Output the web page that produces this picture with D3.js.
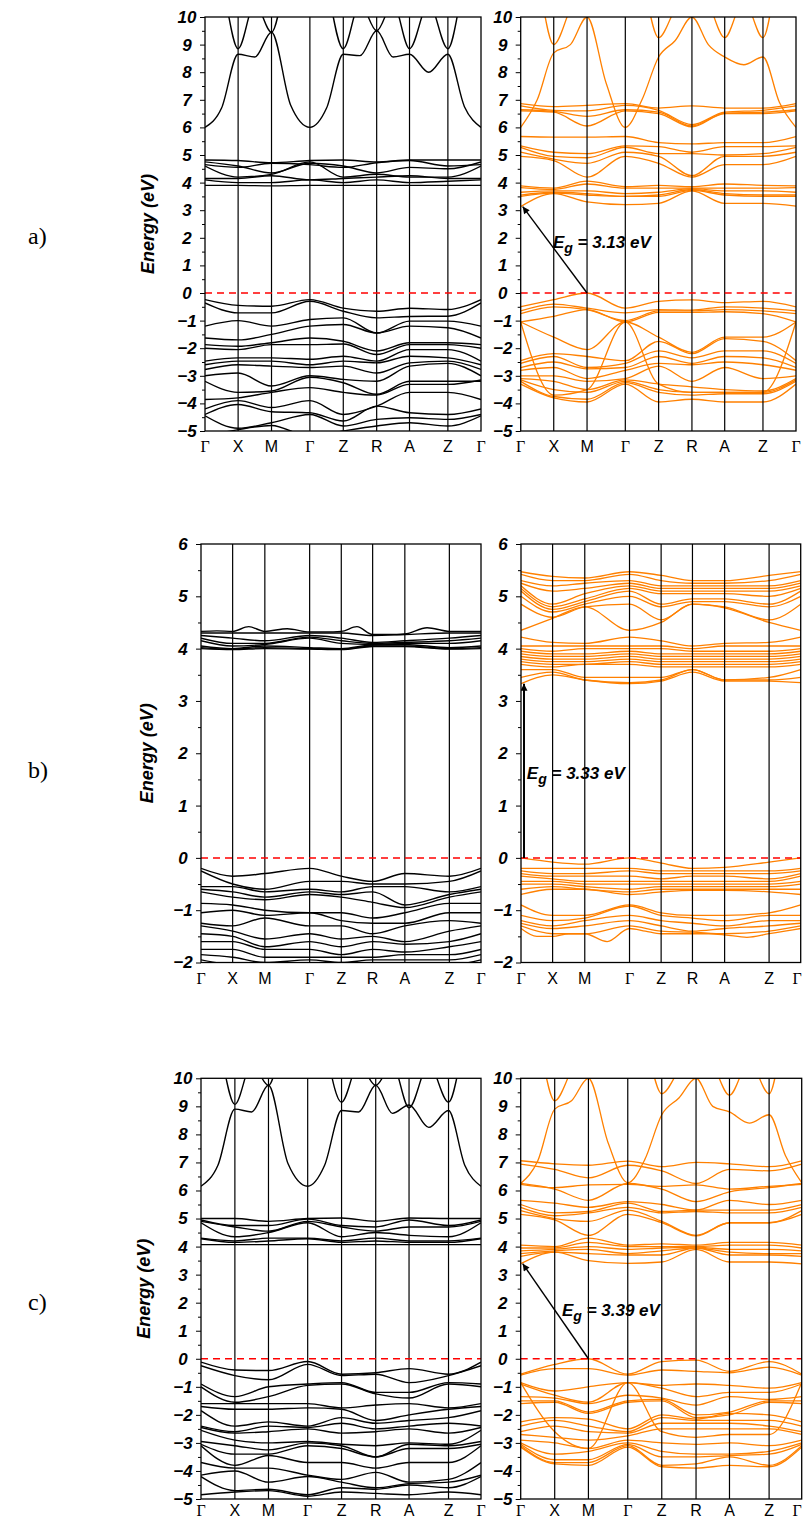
<!DOCTYPE html>
<html>
<head>
<meta charset="utf-8">
<script src="https://cdn.jsdelivr.net/npm/d3@7"></script>
<style>
  body { margin: 0; background: #fff; }
</style>
</head>
<body>
<div id="chart"></div>
<script>
// k-path and tick labels
var kLabels = ["Γ", "X", "M", "Γ", "Z", "R", "A", "Z", "Γ"];
var kPosA = [0, 0.120, 0.241, 0.380, 0.501, 0.622, 0.741, 0.880, 1];
var kPosB = [0, 0.113, 0.228, 0.388, 0.501, 0.613, 0.728, 0.887, 1];
var kPosC = [0, 0.121, 0.241, 0.381, 0.502, 0.624, 0.743, 0.884, 1];
var ticksAC = [-5, -4, -3, -2, -1, 0, 1, 2, 3, 4, 5, 6, 7, 8, 9, 10];
var ticksB = [-2, -1, 0, 1, 2, 3, 4, 5, 6];
var gaps = [3.13, 3.33, 3.39];
var rowTags = ["a)", "b)", "c)"];

// bands: 9 values = energies at the k points, 17 values = k points plus segment midpoints
var bandsA1 = [
  [6.0, 6.7, 8.65, 8.55, 9.45, 6.8, 6.0, 6.7, 8.65, 8.6, 9.5, 8.55, 8.65, 8.0, 8.65, 6.75, 6.0],
  [13, 11.3, 8.85, 10.5, 9.45, 12.5, 15, 11.3, 8.85, 10.5, 9.5, 10.5, 8.85, 10.5, 8.85, 11.3, 13],
  [4.82, 4.8, 4.72, 4.8, 4.82, 4.75, 4.82, 4.82, 4.82],
  [4.75, 4.6, 4.35, 4.7, 4.6, 4.35, 4.55, 4.5, 4.75],
  [4.65, 4.55, 4.7, 4.65, 4.55, 4.72, 4.8, 4.6, 4.65],
  [4.6, 4.2, 4.3, 4.75, 4.2, 4.3, 4.2, 4.2, 4.6],
  [4.15, 4.15, 4.25, 4.1, 4.15, 4.2, 4.25, 4.15, 4.15],
  [4.1, 4.0, 4.0, 4.1, 4.0, 4.1, 4.0, 4.05, 4.1],
  [3.9, 3.9, 3.88, 3.9, 3.9, 3.9, 3.9, 3.9, 3.9],
  [-0.24, -0.45, -0.48, -0.24, -0.55, -0.66, -0.55, -0.6, -0.24],
  [-0.36, -0.72, -0.72, -0.3, -0.66, -0.9, -0.85, -0.84, -0.36],
  [-1.2, -1.0, -1.2, -0.96, -0.9, -1.45, -1.02, -1.02, -1.2],
  [-1.63, -1.7, -1.5, -1.2, -1.14, -1.45, -1.2, -1.26, -1.63],
  [-1.87, -1.93, -1.8, -1.63, -1.75, -2.1, -1.8, -1.8, -1.87],
  [-2.0, -2.05, -1.87, -1.87, -1.85, -2.23, -1.87, -1.87, -2.0],
  [-2.47, -2.35, -2.35, -2.4, -2.29, -2.47, -2.05, -2.05, -2.47],
  [-2.6, -2.47, -2.47, -2.6, -2.47, -2.53, -2.29, -2.35, -2.6],
  [-2.77, -2.6, -2.65, -2.7, -2.65, -2.9, -2.53, -2.47, -2.77],
  [-3.0, -2.9, -3.37, -3.0, -3.13, -3.2, -2.65, -2.55, -3.0],
  [-3.2, -3.6, -3.55, -3.05, -3.25, -3.67, -3.2, -3.2, -3.2],
  [-3.86, -3.8, -3.6, -3.43, -3.6, -3.7, -3.31, -3.31, -3.15],
  [-4.2, -3.9, -4.15, -3.9, -4.4, -4.1, -3.6, -3.6, -3.86],
  [-4.4, -4.04, -4.3, -4.34, -4.64, -4.1, -4.34, -4.4, -4.2],
  [-4.45, -4.9, -4.7, -4.4, -4.82, -4.58, -4.52, -4.58, -4.4],
  [-5.2, -4.95, -4.8, -5.2, -5.0, -4.82, -4.7, -4.82, -4.45]
];

var bandsA2 = [
  [6.0, 7.0, 8.7, 9.0, 10.0, 7.6, 6.0, 7.0, 8.55, 9.15, 10.0, 9.0, 8.55, 8.27, 8.55, 6.9, 6.0],
  [14, 11.5, 9.0, 10.3, 11.5, 13, 14, 11.5, 9.25, 10.3, 11.2, 10.5, 9.25, 10.6, 9.25, 12, 14],
  [6.86, 6.75, 6.8, 6.86, 6.7, 6.78, 6.7, 6.7, 6.86],
  [6.78, 6.62, 6.6, 6.8, 6.62, 6.1, 6.55, 6.62, 6.78],
  [6.64, 6.58, 6.4, 6.64, 6.55, 6.05, 6.52, 6.55, 6.64],
  [6.6, 6.55, 6.05, 6.6, 6.5, 6.02, 6.5, 6.5, 6.6],
  [5.67, 5.65, 5.65, 5.67, 5.45, 5.4, 5.45, 5.45, 5.67],
  [5.33, 5.1, 5.05, 5.33, 5.3, 5.1, 5.3, 5.3, 5.33],
  [5.28, 4.95, 4.9, 5.28, 5.05, 5.05, 5.0, 5.05, 5.28],
  [5.1, 4.85, 4.7, 5.1, 4.95, 4.25, 4.95, 4.95, 5.1],
  [4.95, 4.8, 4.2, 4.95, 4.7, 4.2, 4.65, 4.65, 4.95],
  [3.88, 3.8, 4.05, 3.85, 3.9, 3.85, 3.95, 3.9, 3.88],
  [3.82, 3.75, 3.95, 3.8, 3.8, 3.8, 3.8, 3.8, 3.82],
  [3.65, 3.7, 3.7, 3.6, 3.65, 3.78, 3.7, 3.7, 3.65],
  [3.55, 3.65, 3.6, 3.5, 3.55, 3.75, 3.6, 3.55, 3.55],
  [3.5, 3.62, 3.55, 3.5, 3.5, 3.72, 3.55, 3.5, 3.5],
  [3.13, 3.6, 3.3, 3.2, 3.25, 3.7, 3.25, 3.25, 3.15],
  [-0.5, -0.24, 0.0, -0.55, -0.3, -0.25, -0.35, -0.3, -0.5],
  [-0.65, -0.4, -0.55, -0.72, -0.6, -0.62, -0.5, -0.55, -0.65],
  [-0.75, -0.5, -0.6, -1.0, -0.65, -0.65, -0.6, -0.65, -0.75],
  [-1.05, -0.85, -0.6, -1.05, -0.7, -0.7, -0.68, -0.75, -1.05],
  [-1.05, -1.6, -2.05, -1.05, -1.6, -2.15, -1.6, -1.6, -1.05],
  [-1.05, -3.7, -3.5, -1.05, -3.3, -3.6, -3.6, -3.6, -1.05],
  [-2.45, -2.2, -2.3, -2.45, -1.75, -2.2, -1.65, -1.75, -2.45],
  [-2.55, -2.3, -2.7, -2.55, -2.1, -2.35, -2.1, -2.1, -2.55],
  [-2.7, -2.5, -2.75, -2.7, -2.3, -2.55, -2.3, -2.35, -2.7],
  [-2.8, -2.7, -3.1, -2.8, -2.55, -2.6, -2.5, -2.6, -2.8],
  [-3.0, -3.0, -3.2, -3.1, -2.65, -3.2, -2.7, -3.1, -3.0],
  [-3.1, -3.2, -3.5, -3.15, -3.3, -3.4, -3.5, -3.55, -3.1],
  [-3.15, -3.5, -3.6, -3.2, -3.5, -3.6, -3.6, -3.6, -3.15],
  [-3.2, -3.75, -3.85, -3.25, -3.6, -3.7, -3.65, -3.65, -3.2],
  [-3.3, -3.8, -3.95, -3.3, -3.95, -3.85, -3.95, -3.95, -3.3]
];

var bandsB1 = [
  [4.33, 4.34, 4.33, 4.42, 4.33, 4.38, 4.32, 4.32, 4.33, 4.42, 4.27, 4.27, 4.28, 4.4, 4.33, 4.33, 4.33],
  [4.3, 4.3, 4.3, 4.3, 4.3, 4.25, 4.27, 4.3, 4.3],
  [4.25, 4.2, 4.15, 4.25, 4.2, 4.12, 4.15, 4.2, 4.25],
  [4.2, 4.1, 4.1, 4.22, 4.15, 4.1, 4.12, 4.15, 4.2],
  [4.15, 4.05, 4.08, 4.2, 4.1, 4.08, 4.1, 4.1, 4.15],
  [4.05, 4.0, 4.05, 4.02, 4.0, 4.07, 4.08, 4.02, 4.05],
  [4.02, 3.99, 4.02, 4.0, 3.99, 4.05, 4.05, 4.0, 4.02],
  [4.0, 3.98, 4.0, 3.99, 3.98, 4.04, 4.04, 3.99, 4.0],
  [-0.2, -0.35, -0.3, -0.2, -0.35, -0.45, -0.3, -0.35, -0.2],
  [-0.25, -0.5, -0.6, -0.45, -0.45, -0.5, -0.5, -0.45, -0.25],
  [-0.55, -0.55, -0.65, -0.6, -0.65, -0.55, -0.55, -0.65, -0.55],
  [-0.6, -0.65, -0.75, -0.65, -0.7, -0.65, -0.9, -0.7, -0.6],
  [-0.65, -0.75, -0.8, -0.7, -0.75, -0.85, -0.95, -0.75, -0.65],
  [-0.87, -0.9, -1.0, -1.05, -1.05, -1.15, -1.05, -0.87, -0.87],
  [-1.05, -1.0, -1.1, -1.05, -1.2, -1.25, -1.25, -1.05, -1.05],
  [-1.25, -1.3, -1.15, -1.3, -1.3, -1.45, -1.3, -1.2, -1.25],
  [-1.3, -1.4, -1.55, -1.45, -1.55, -1.5, -1.6, -1.4, -1.3],
  [-1.45, -1.5, -1.7, -1.6, -1.7, -1.6, -1.65, -1.6, -1.45],
  [-1.6, -1.6, -1.75, -1.75, -1.85, -1.75, -1.8, -1.7, -1.6],
  [-1.75, -1.75, -1.9, -1.9, -1.9, -1.9, -1.85, -1.85, -1.75],
  [-1.85, -1.9, -2.0, -1.95, -2.0, -1.95, -1.95, -1.95, -1.85],
  [-1.95, -2.05, -2.1, -2.05, -2.1, -2.05, -2.05, -2.05, -1.95]
];

var bandsB2 = [
  [5.47, 5.38, 5.35, 5.47, 5.4, 5.3, 5.3, 5.4, 5.47],
  [5.42, 5.3, 5.3, 5.42, 5.3, 5.25, 5.25, 5.3, 5.42],
  [5.3, 5.2, 5.25, 5.3, 5.2, 5.2, 5.2, 5.2, 5.3],
  [5.25, 5.1, 5.15, 5.25, 5.15, 5.15, 5.15, 5.15, 5.25],
  [5.2, 4.85, 5.05, 5.2, 5.1, 5.1, 5.1, 5.1, 5.2],
  [5.15, 4.8, 4.95, 5.15, 5.05, 5.05, 5.05, 5.0, 5.15],
  [5.1, 4.75, 4.9, 5.1, 4.85, 4.95, 4.95, 4.85, 5.1],
  [5.0, 4.7, 4.85, 5.0, 4.8, 4.9, 4.9, 4.8, 5.0],
  [4.85, 4.6, 4.8, 4.85, 4.55, 4.85, 4.8, 4.55, 4.85],
  [4.35, 4.58, 4.8, 4.35, 4.5, 4.85, 4.78, 4.5, 4.35],
  [4.22, 4.12, 4.1, 4.22, 4.15, 4.05, 4.1, 4.12, 4.22],
  [4.05, 4.05, 4.05, 4.05, 4.05, 4.0, 4.05, 4.05, 4.05],
  [4.0, 3.95, 4.0, 4.0, 4.0, 3.95, 3.95, 3.95, 4.0],
  [3.95, 3.9, 3.9, 3.95, 3.9, 3.9, 3.9, 3.9, 3.95],
  [3.9, 3.85, 3.85, 3.9, 3.85, 3.85, 3.85, 3.85, 3.9],
  [3.85, 3.8, 3.8, 3.85, 3.8, 3.8, 3.8, 3.8, 3.85],
  [3.8, 3.75, 3.75, 3.8, 3.75, 3.75, 3.75, 3.75, 3.8],
  [3.75, 3.7, 3.7, 3.75, 3.7, 3.7, 3.7, 3.7, 3.75],
  [3.7, 3.65, 3.7, 3.7, 3.65, 3.65, 3.65, 3.65, 3.7],
  [3.6, 3.6, 3.45, 3.45, 3.45, 3.6, 3.4, 3.45, 3.6],
  [3.45, 3.55, 3.4, 3.35, 3.4, 3.6, 3.4, 3.4, 3.45],
  [3.33, 3.5, 3.4, 3.33, 3.38, 3.55, 3.38, 3.38, 3.35],
  [0.0, -0.08, -0.12, 0.0, -0.1, -0.2, -0.18, -0.08, 0.0],
  [-0.2, -0.2, -0.2, -0.2, -0.25, -0.25, -0.25, -0.25, -0.2],
  [-0.25, -0.3, -0.3, -0.25, -0.3, -0.3, -0.3, -0.3, -0.25],
  [-0.3, -0.35, -0.35, -0.35, -0.4, -0.35, -0.35, -0.4, -0.3],
  [-0.35, -0.4, -0.45, -0.45, -0.45, -0.45, -0.45, -0.45, -0.35],
  [-0.45, -0.45, -0.5, -0.5, -0.5, -0.5, -0.5, -0.5, -0.45],
  [-0.5, -0.5, -0.55, -0.6, -0.55, -0.55, -0.55, -0.55, -0.5],
  [-0.6, -0.55, -0.6, -0.65, -0.6, -0.6, -0.6, -0.6, -0.6],
  [-0.7, -0.6, -0.6, -0.7, -0.65, -0.62, -0.62, -0.65, -0.7],
  [-0.9, -1.1, -1.1, -0.9, -1.05, -1.1, -1.1, -1.05, -0.9],
  [-1.1, -1.2, -1.15, -0.92, -1.1, -1.15, -1.2, -1.1, -1.1],
  [-1.2, -1.3, -1.2, -1.1, -1.2, -1.25, -1.3, -1.2, -1.2],
  [-1.25, -1.35, -1.3, -1.2, -1.3, -1.4, -1.35, -1.3, -1.25],
  [-1.3, -1.45, -1.45, -1.3, -1.4, -1.42, -1.45, -1.4, -1.3],
  [-1.35, -1.5, -1.5, -1.45, -1.45, -1.6, -1.35, -1.4, -1.45, -1.45, -1.45, -1.45, -1.47, -1.52, -1.45, -1.4, -1.35]
];

var bandsC1 = [
  [6.15, 6.9, 8.9, 8.8, 9.75, 6.95, 6.15, 6.9, 8.85, 8.8, 9.75, 8.75, 9.05, 8.25, 8.85, 6.9, 6.15],
  [13, 11.3, 9.07, 10.5, 9.75, 12.5, 15, 11.3, 9.15, 10.5, 9.75, 10.5, 8.95, 10.5, 9.15, 11.3, 13],
  [5.0, 5.0, 4.9, 5.0, 5.02, 4.9, 5.02, 5.0, 5.0],
  [4.95, 4.75, 4.75, 4.98, 4.75, 4.7, 4.95, 4.75, 4.95],
  [4.9, 4.7, 4.55, 4.9, 4.7, 4.55, 4.7, 4.7, 4.9],
  [4.85, 4.35, 4.5, 4.85, 4.35, 4.5, 4.4, 4.35, 4.85],
  [4.3, 4.2, 4.3, 4.3, 4.2, 4.3, 4.2, 4.2, 4.3],
  [4.28, 4.15, 4.2, 4.28, 4.15, 4.2, 4.15, 4.15, 4.28],
  [4.07, 4.07, 4.07, 4.07, 4.07, 4.07, 4.07, 4.07, 4.07],
  [-0.12, -0.4, -0.42, -0.1, -0.55, -0.5, -0.35, -0.55, -0.12],
  [-0.25, -0.6, -0.75, -0.2, -0.6, -0.55, -0.85, -0.6, -0.25],
  [-0.9, -1.35, -1.0, -0.9, -0.85, -1.2, -1.2, -0.85, -0.9],
  [-1.0, -1.55, -1.35, -0.95, -0.9, -1.25, -1.4, -0.9, -1.0],
  [-1.6, -1.6, -1.6, -1.6, -1.75, -1.65, -1.6, -1.75, -1.6],
  [-1.7, -1.8, -1.8, -1.75, -1.8, -2.2, -2.0, -1.8, -1.7],
  [-1.85, -2.4, -2.25, -2.4, -2.1, -2.3, -2.2, -2.1, -1.85],
  [-2.4, -2.6, -2.4, -2.45, -2.3, -2.5, -2.4, -2.3, -2.4],
  [-2.45, -2.65, -2.6, -2.5, -2.65, -2.6, -2.5, -2.65, -2.45],
  [-2.55, -2.9, -3.0, -2.95, -3.05, -3.1, -3.0, -3.05, -2.55],
  [-2.95, -3.1, -3.25, -3.0, -3.1, -3.5, -3.05, -3.1, -2.95],
  [-3.05, -3.4, -3.4, -3.1, -3.2, -3.5, -3.2, -3.2, -3.05],
  [-3.1, -3.8, -3.45, -3.7, -3.7, -3.9, -3.7, -3.7, -3.1],
  [-3.7, -3.9, -3.9, -4.15, -4.3, -4.05, -4.4, -4.3, -3.7],
  [-4.15, -4.0, -4.4, -4.2, -4.4, -4.6, -4.45, -4.4, -4.15],
  [-4.2, -4.7, -4.65, -4.85, -4.6, -4.65, -4.5, -4.6, -4.2],
  [-4.85, -4.75, -4.7, -4.9, -4.75, -4.8, -4.85, -4.75, -4.85]
];

var bandsC2 = [
  [6.25, 7.05, 8.9, 9.2, 10.0, 7.7, 6.28, 7.1, 8.7, 9.3, 10.0, 9.0, 8.8, 8.4, 8.7, 7.25, 6.28],
  [14, 11.5, 9.2, 10.3, 11.5, 13, 14, 11.5, 9.45, 10.3, 11.2, 10.5, 9.4, 10.6, 9.45, 12, 14],
  [7.06, 6.95, 6.9, 7.05, 6.85, 7.0, 6.95, 6.85, 7.06],
  [6.94, 6.75, 6.45, 6.9, 6.7, 6.25, 6.75, 6.7, 6.94],
  [6.22, 6.1, 6.2, 6.22, 6.15, 6.2, 6.05, 6.15, 6.22],
  [6.25, 6.05, 5.65, 6.25, 6.05, 5.6, 5.95, 6.1, 6.25],
  [5.65, 5.55, 5.4, 5.6, 5.5, 5.3, 5.65, 5.5, 5.65],
  [5.5, 5.2, 5.25, 5.55, 5.25, 5.3, 5.3, 5.3, 5.5],
  [5.4, 5.1, 5.2, 5.4, 5.2, 5.25, 5.2, 5.2, 5.4],
  [5.28, 5.0, 4.9, 5.3, 4.9, 4.4, 4.85, 4.85, 5.28],
  [5.15, 4.95, 4.4, 5.15, 4.85, 4.38, 4.85, 4.85, 5.15],
  [4.05, 4.0, 4.3, 4.05, 4.1, 4.05, 4.15, 4.15, 4.05],
  [3.95, 3.95, 4.15, 4.0, 4.0, 4.0, 4.05, 4.05, 3.95],
  [3.85, 3.9, 4.0, 3.9, 3.95, 3.98, 3.9, 3.9, 3.85],
  [3.75, 3.85, 3.9, 3.75, 3.85, 3.95, 3.8, 3.75, 3.75],
  [3.65, 3.8, 3.75, 3.7, 3.7, 3.95, 3.7, 3.7, 3.65],
  [3.39, 3.8, 3.5, 3.4, 3.45, 3.9, 3.45, 3.45, 3.38],
  [-0.55, -0.2, 0.0, -0.55, -0.1, -0.05, -0.45, -0.1, -0.55],
  [-0.58, -0.35, -0.35, -0.58, -0.4, -0.45, -0.5, -0.3, -0.58],
  [-0.85, -1.15, -1.0, -0.85, -0.95, -0.9, -0.95, -1.05, -0.85],
  [-0.9, -1.3, -1.55, -0.85, -1.05, -1.35, -1.2, -1.2, -0.9],
  [-0.85, -2.6, -3.2, -0.85, -2.6, -2.8, -2.7, -2.7, -0.85],
  [-1.35, -1.4, -1.6, -1.3, -1.4, -1.65, -1.35, -1.45, -1.35],
  [-1.5, -1.5, -1.9, -1.5, -1.45, -2.0, -1.9, -1.5, -1.5],
  [-1.6, -1.55, -1.95, -1.55, -1.5, -2.1, -2.0, -1.55, -1.6],
  [-2.25, -2.1, -2.15, -2.5, -2.0, -2.15, -1.95, -2.0, -2.25],
  [-2.4, -2.2, -2.4, -2.6, -2.1, -2.2, -2.2, -2.2, -2.4],
  [-2.6, -2.4, -2.6, -2.65, -2.3, -2.3, -2.3, -2.4, -2.6],
  [-2.7, -2.8, -2.9, -2.75, -2.5, -2.5, -2.5, -2.5, -2.7],
  [-2.9, -3.0, -3.2, -2.9, -3.0, -3.05, -3.0, -3.1, -2.9],
  [-3.0, -3.4, -3.3, -3.0, -3.3, -3.4, -3.4, -3.3, -3.0],
  [-3.05, -3.6, -3.6, -3.05, -3.5, -3.5, -3.45, -3.4, -3.05],
  [-3.1, -3.7, -3.7, -3.1, -3.8, -3.75, -3.5, -3.8, -3.1],
  [-3.15, -3.75, -3.8, -3.15, -3.85, -3.9, -3.8, -3.85, -3.15]
];

var orange = "#ff8000";

// layout of the six frames (pixels)
var panels = [
  {bands: bandsA1, k: kPosA, ticks: ticksAC, dom: [-5, 10], color: "#000", x0: 205, x1: 481, y0: 17, y1: 431, title: 148},
  {bands: bandsA2, k: kPosA, ticks: ticksAC, dom: [-5, 10], color: orange, x0: 520.7, x1: 796, y0: 17, y1: 431,
   gap: 0, arrowFrom: 2, label: [0.117, 1.63]},
  {bands: bandsB1, k: kPosB, ticks: ticksB, dom: [-2, 6], color: "#000", x0: 201, x1: 481, y0: 544, y1: 962.5, title: 147},
  {bands: bandsB2, k: kPosB, ticks: ticksB, dom: [-2, 6], color: orange, x0: 521, x1: 800.7, y0: 544, y1: 962.5,
   gap: 1, arrowFrom: 0, label: [0.021, 1.5]},
  {bands: bandsC1, k: kPosC, ticks: ticksAC, dom: [-5, 10], color: "#000", x0: 201, x1: 481, y0: 1078.3, y1: 1499, title: 144},
  {bands: bandsC2, k: kPosC, ticks: ticksAC, dom: [-5, 10], color: orange, x0: 520.7, x1: 801.7, y0: 1078.3, y1: 1499,
   gap: 2, arrowFrom: 2, label: [0.147, 1.53]}
];
var tagY = [244, 778, 1310];

var svg = d3.select("#chart").append("svg")
    .attr("width", 803)
    .attr("height", 1522)
    .style("font-family", "'Liberation Sans', Arial, sans-serif");

var defs = svg.append("defs");
defs.append("marker")
    .attr("id", "arrow")
    .attr("viewBox", "0 0 10 10")
    .attr("refX", 10).attr("refY", 5)
    .attr("markerWidth", 9).attr("markerHeight", 7)
    .attr("markerUnits", "userSpaceOnUse")
    .attr("orient", "auto")
  .append("path")
    .attr("d", "M0,0 L10,5 L0,10 z")
    .style("fill", "#000");

function kCoords(k, n) {
  if (n === k.length) return k;
  var out = [];
  for (var i = 0; i < k.length; i++) {
    out.push(k[i]);
    if (i < k.length - 1) out.push((k[i] + k[i + 1]) / 2);
  }
  return out;
}

panels.forEach(function(p, pi) {
  var x = d3.scaleLinear().domain([0, 1]).range([p.x0, p.x1]);
  var y = d3.scaleLinear().domain(p.dom).range([p.y1, p.y0]);
  var g = svg.append("g");

  defs.append("clipPath").attr("id", "clip" + pi)
    .append("rect")
      .attr("x", p.x0).attr("y", p.y0)
      .attr("width", p.x1 - p.x0).attr("height", p.y1 - p.y0);

  var line = d3.line()
      .x(function(d) { return x(d[0]); })
      .y(function(d) { return y(d[1]); })
      .curve(d3.curveMonotoneX);

  g.append("g").attr("clip-path", "url(#clip" + pi + ")")
    .selectAll("path.band").data(p.bands).enter()
    .append("path")
      .attr("class", "band")
      .attr("d", function(b) {
        var ks = kCoords(p.k, b.length);
        return line(b.map(function(e, i) { return [ks[i], e]; }));
      })
      .style("fill", "none")
      .style("stroke", p.color)
      .style("stroke-width", p.color === "#000" ? 1.4 : 1.3);

  // high-symmetry lines
  g.selectAll("line.kline").data(p.k.slice(1, -1)).enter()
    .append("line")
      .attr("x1", function(d) { return x(d); })
      .attr("x2", function(d) { return x(d); })
      .attr("y1", p.y0).attr("y2", p.y1)
      .style("stroke", "#000")
      .style("stroke-width", 1.2);

  // Fermi level
  g.append("line")
      .attr("x1", p.x0).attr("x2", p.x1)
      .attr("y1", y(0)).attr("y2", y(0))
      .style("stroke", "#ff0000")
      .style("stroke-width", 1.5)
      .style("stroke-dasharray", "7,5");

  g.append("rect")
      .attr("x", p.x0).attr("y", p.y0)
      .attr("width", p.x1 - p.x0).attr("height", p.y1 - p.y0)
      .style("fill", "none")
      .style("stroke", "#000")
      .style("stroke-width", 1.3);

  // y axis, major + minor ticks
  var minor = p.ticks.slice(0, -1).map(function(t) { return t + 0.5; });
  g.append("g")
      .attr("transform", "translate(" + p.x0 + ",0)")
      .call(d3.axisLeft(y).tickValues(minor).tickSize(3).tickFormat(""))
      .call(function(a) { a.select(".domain").remove(); });
  var ax = g.append("g")
      .attr("transform", "translate(" + p.x0 + ",0)")
      .call(d3.axisLeft(y).tickValues(p.ticks).tickSize(5).tickPadding(13)
        .tickFormat(d3.format("d")));
  ax.select(".domain").remove();
  ax.selectAll("text")
      .attr("text-anchor", "middle")
      .style("font-size", "17px")
      .style("font-weight", "bold")
      .style("font-style", "italic")
      .style("font-family", "'Liberation Sans', Arial, sans-serif")
      .style("fill", "#000");

  // k labels (kept inside the 803x1522 page)
  g.selectAll("text.klabel").data(kLabels).enter()
    .append("text")
      .attr("x", function(d, i) { return Math.min(x(p.k[i]), 797); })
      .attr("y", Math.min(p.y1 + 21, 1516))
      .attr("text-anchor", "middle")
      .style("font-size", "16px")
      .style("font-family", function(d) {
        return d === "Γ" ? "'Liberation Serif', 'Times New Roman', serif" : "'Liberation Sans', Arial, sans-serif";
      })
      .text(function(d) { return d; });

  if (p.title) {
    var cy = (p.y0 + p.y1) / 2;
    g.append("text")
        .attr("transform", "translate(" + (p.title + 6) + "," + cy + ") rotate(-90)")
        .attr("text-anchor", "middle")
        .style("font-size", "18px")
        .style("font-weight", "bold")
        .style("font-style", "italic")
        .text("Energy (eV)");
  }

  if (p.gap !== undefined) {
    var eg = gaps[p.gap];
    var xa = p.arrowFrom === 0 ? x(0) + 3 : x(p.k[p.arrowFrom]);
    var xb = p.arrowFrom === 0 ? x(0) + 3 : x(0) + 2;
    g.append("line")
        .attr("x1", xa).attr("y1", y(0))
        .attr("x2", xb).attr("y2", y(eg))
        .style("stroke", "#000")
        .style("stroke-width", p.arrowFrom === 0 ? 2 : 1.4)
        .attr("marker-end", "url(#arrow)");
    var t = g.append("text")
        .attr("x", x(p.label[0]))
        .attr("y", y(p.label[1]))
        .style("font-size", "17px")
        .style("font-weight", "bold")
        .style("font-style", "italic");
    t.append("tspan").text("E");
    t.append("tspan").attr("dy", 5).style("font-size", "14px").text("g");
    t.append("tspan").attr("dy", -5).text(" = " + eg.toFixed(2) + " eV");
  }
});

svg.selectAll("text.tag").data(rowTags).enter()
  .append("text")
    .attr("x", 28)
    .attr("y", function(d, i) { return tagY[i]; })
    .style("font-family", "'Liberation Serif', 'Times New Roman', serif")
    .style("font-size", "24px")
    .text(function(d) { return d; });
</script>
